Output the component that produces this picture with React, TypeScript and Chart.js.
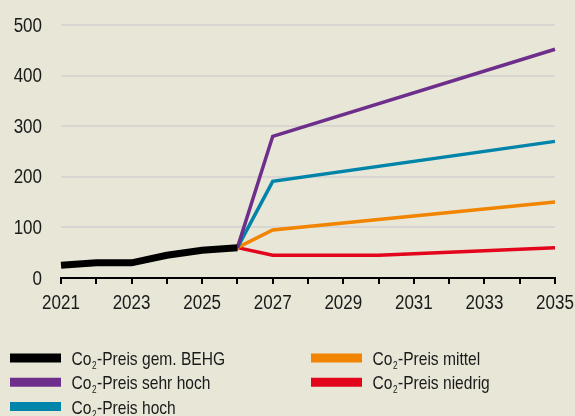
import React, { useEffect, useRef } from "react";
import { Chart, registerables } from "chart.js";

Chart.register(...registerables);

const years = ["2021","2022","2023","2024","2025","2026","2027","2028","2029","2030","2031","2032","2033","2034","2035"];
const xTickLabels = ["2021", "", "2023", "", "2025", "", "2027", "", "2029", "", "2031", "", "2033", "", "2035"];
const behg = [25, 30, 30, 45, 55, 60, null, null, null, null, null, null, null, null, null];
const sehrHoch = [null, null, null, null, null, 60, 280, null, null, null, null, null, null, null, 452];
const hoch = [null, null, null, null, null, 60, 191, null, null, null, null, null, null, null, 270];
const mittel = [null, null, null, null, null, 60, 95, null, null, null, null, null, null, null, 150];
const niedrig = [null, null, null, null, null, 60, 45, null, null, 45, null, null, null, null, 60];
const seriesNames = ["-Preis gem. BEHG", "-Preis sehr hoch", "-Preis hoch", "-Preis mittel", "-Preis niedrig"];
const yTicks = [0, 100, 200, 300, 400, 500];

const FONT = "'Liberation Sans', Arial, sans-serif";
const BG = "#e8e6d7";
const TEXT = "#1a1a1a";
const SX_TICK = 0.85;
const SX_LEG = 0.82;

function drawScaled(ctx: any, text: string, x: number, y: number, sx: number, align: string, font: string) {
  ctx.save();
  ctx.font = font;
  ctx.textAlign = align;
  ctx.translate(x, y);
  ctx.scale(sx, 1);
  ctx.fillText(text, 0, 0);
  ctx.restore();
}

const labelsPlugin = {
  id: "tickLabels",
  afterDraw(chart: any) {
    const ctx = chart.ctx;
    const xs = chart.scales.x;
    const ys = chart.scales.y;
    ctx.save();
    ctx.fillStyle = TEXT;
    ctx.textBaseline = "middle";
    const f = `20px ${FONT}`;
    xTickLabels.forEach((t, i) => {
      if (!t) return;
      drawScaled(ctx, t, xs.getPixelForTick(i), 303, SX_TICK, "center", f);
    });
    yTicks.forEach((v) => {
      drawScaled(ctx, String(v), 42, ys.getPixelForValue(v) + 1, SX_TICK, "right", f);
    });
    ctx.restore();
  },
};

const legendPlugin = {
  id: "customLegend",
  afterDraw(chart: any) {
    const ctx = chart.ctx;
    const ds = chart.data.datasets;
    ctx.save();
    ds.forEach((d: any, i: number) => {
      const col = Math.floor(i / 3);
      const row = i % 3;
      const x = 10 + col * 301;
      const y = 358 + row * 24.3;
      ctx.strokeStyle = d.borderColor;
      ctx.lineWidth = 9;
      ctx.lineCap = "butt";
      ctx.beginPath();
      ctx.moveTo(x, y);
      ctx.lineTo(x + 51, y);
      ctx.stroke();
      ctx.fillStyle = TEXT;
      ctx.textBaseline = "alphabetic";
      let tx = x + 61.5;
      const base = y + 7;
      const big = `19px ${FONT}`;
      const small = `10px ${FONT}`;
      ctx.font = big;
      drawScaled(ctx, "Co", tx, base, SX_LEG, "left", big);
      tx += ctx.measureText("Co").width * SX_LEG;
      ctx.font = small;
      drawScaled(ctx, "2", tx + 0.5, base + 4, SX_LEG, "left", small);
      tx += ctx.measureText("2").width * SX_LEG + 1;
      ctx.font = big;
      drawScaled(ctx, d.label.replace(/^Co2/, ""), tx, base, SX_LEG, "left", big);
    });
    ctx.restore();
  },
};

const bgPlugin = {
  id: "bg",
  beforeDraw(chart: any) {
    const ctx = chart.ctx;
    ctx.save();
    ctx.fillStyle = BG;
    ctx.fillRect(0, 0, chart.width, chart.height);
    ctx.restore();
  },
};

export default function App() {
  const ref = useRef<HTMLCanvasElement | null>(null);
  useEffect(() => {
    document.body.style.margin = "0";
    document.body.style.background = BG;
    if (!ref.current) return;
    const mk = (label: string, data: any[], color: string, w: number) => ({
      label: "Co2" + label,
      data,
      borderColor: color,
      backgroundColor: color,
      borderWidth: w,
      pointRadius: 0,
      tension: 0,
      spanGaps: true,
      fill: false,
    });
    const chart = new Chart(ref.current, {
      type: "line",
      data: {
        labels: years,
        datasets: [
          mk(seriesNames[0], behg, "#000000", 7),
          mk(seriesNames[1], sehrHoch, "#6d2e8c", 3.5),
          mk(seriesNames[2], hoch, "#0084aa", 3.5),
          mk(seriesNames[3], mittel, "#f18400", 3.5),
          mk(seriesNames[4], niedrig, "#e3051b", 3.5),
        ],
      },
      options: {
        responsive: false,
        animation: false,
        layout: { padding: { top: 25, right: 20, left: 0, bottom: 0 } },
        plugins: { legend: { display: false }, tooltip: { enabled: false } },
        scales: {
          x: {
            type: "category",
            offset: false,
            grid: { drawOnChartArea: false, drawTicks: true, tickLength: 6, color: "#000", lineWidth: 2 },
            border: { display: true, color: "#000", width: 2 },
            ticks: { display: false, autoSkip: false },
            afterFit: (s: any) => { s.height = 138; s.paddingLeft = 0; s.paddingRight = 0; },
          },
          y: {
            min: 0,
            max: 500,
            afterBuildTicks: (s: any) => { s.ticks = yTicks.map((v) => ({ value: v })); },
            grid: { color: "#d7d6d2", lineWidth: 2, drawTicks: false },
            border: { display: false },
            ticks: { display: false },
            afterFit: (s: any) => { s.width = 61; s.paddingTop = 0; s.paddingBottom = 0; },
          },
        },
      },
      plugins: [bgPlugin, labelsPlugin, legendPlugin],
    });
    return () => chart.destroy();
  }, []);
  return (
    <div style={{ width: 575, height: 416 }}>
      <canvas ref={ref} width={575} height={416} style={{ display: "block" }} />
    </div>
  );
}
